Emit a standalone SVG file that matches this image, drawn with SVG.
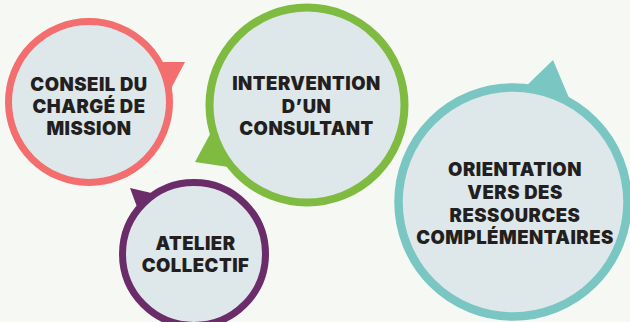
<svg xmlns="http://www.w3.org/2000/svg" width="630" height="322" viewBox="0 0 630 322">
<style>
.bg{fill:#f6f8f3}
.c{fill:#dee7ea}
.t{font-family:Inter,"Open Sans","Liberation Sans",sans-serif;font-weight:900;font-size:18.5px;letter-spacing:0.5px;fill:#231f20;text-anchor:middle}
.red{stroke:#f36e6e}
.grn{stroke:#7fbb41}
.pur{stroke:#6b2d6a}
.tea{stroke:#79c6c3}
</style>
<rect class="bg" x="0" y="0" width="630" height="322"/>
<g id="conseil">
<polygon points="185,62 150,62 165,100" fill="#f36e6e"/>
<circle class="c red" cx="89" cy="102" r="80.5" stroke-width="7"/>
<text class="t" x="89" y="91">CONSEIL DU</text>
<text class="t" x="89" y="112.5">CHARGÉ DE</text>
<text class="t" x="89" y="134.5">MISSION</text>
</g>
<g id="intervention">
<polygon points="195,162 215,125 235,168" fill="#7fbb41"/>
<circle class="c grn" cx="307" cy="105" r="97.5" stroke-width="8"/>
<text class="t" x="306.5" y="90">INTERVENTION</text>
<text class="t" x="306.5" y="113">D’UN</text>
<text class="t" x="306.5" y="135">CONSULTANT</text>
</g>
<g id="atelier">
<polygon points="130,188 160,195 140,215" fill="#6b2d6a"/>
<circle class="c pur" cx="194" cy="254" r="71.5" stroke-width="7"/>
<text class="t" x="195.5" y="250">ATELIER</text>
<text class="t" x="195.5" y="271.5">COLLECTIF</text>
</g>
<g id="orientation">
<polygon points="553,60 520,92 572,105" fill="#79c6c3"/>
<circle class="c tea" cx="513" cy="202" r="114.5" stroke-width="8.5"/>
<text class="t" x="515" y="176">ORIENTATION</text>
<text class="t" x="515" y="199">VERS DES</text>
<text class="t" x="515" y="222">RESSOURCES</text>
<text class="t" x="515" y="243.5">COMPLÉMENTAIRES</text>
</g>
<g id="connectors"/>
</svg>
